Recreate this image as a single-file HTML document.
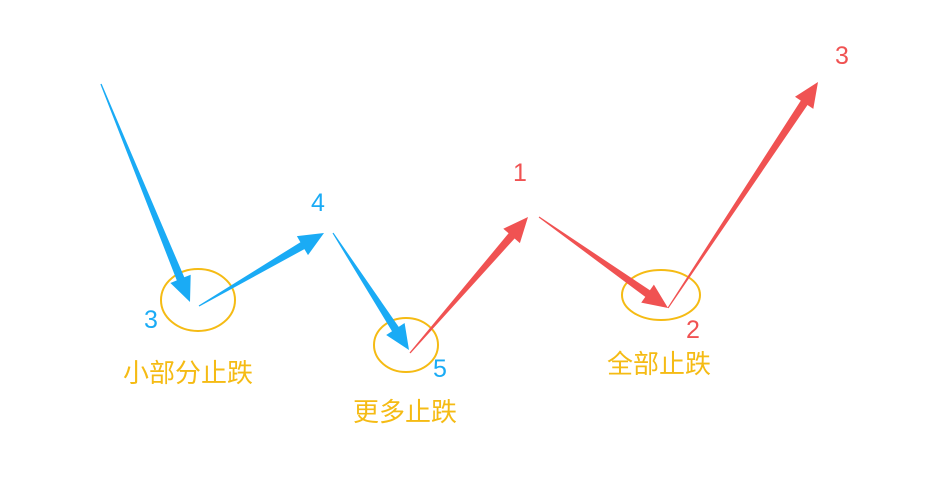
<!DOCTYPE html>
<html><head><meta charset="utf-8"><style>
html,body{margin:0;padding:0;background:#fff;width:927px;height:500px;overflow:hidden}
svg text{font-family:"Liberation Sans","Noto Sans CJK SC",sans-serif}
</style></head><body>
<svg id="s" width="927" height="500" xmlns="http://www.w3.org/2000/svg">
<g fill="none" stroke="#f5bb14" stroke-width="2">
<ellipse cx="198" cy="300" rx="37" ry="31"/>
<ellipse cx="406" cy="345" rx="32" ry="27"/>
<ellipse cx="661" cy="295" rx="39" ry="25"/>
</g>
<g font-size="25" fill="#1aabf5" text-anchor="middle">
<text x="151" y="328">3</text><text x="318" y="211">4</text><text x="440" y="377">5</text>
</g>
<g font-size="25" fill="#f05252" text-anchor="middle">
<text x="520" y="181">1</text><text x="693" y="338">2</text><text x="842" y="64">3</text>
</g>
<g font-size="26" fill="#f5bb14" text-anchor="middle">
<text x="188" y="382">小部分止跌</text><text x="405" y="421">更多止跌</text><text x="659" y="373">全部止跌</text>
</g>
</svg>
<script>
var s=document.getElementById('s');
function arr(x1,y1,x2,y2,c){
 var dx=x2-x1,dy=y2-y1,L=Math.hypot(dx,dy),ux=dx/L,uy=dy/L,nx=-uy,ny=ux;
 var hl=25,hw=11,sw=4;
 var bx=x2-ux*hl,by=y2-uy*hl;
 var p=[[x1+nx*0.6,y1+ny*0.6],[bx+nx*sw,by+ny*sw],[bx+nx*hw,by+ny*hw],[x2,y2],[bx-nx*hw,by-ny*hw],[bx-nx*sw,by-ny*sw],[x1-nx*0.6,y1-ny*0.6]];
 var e=document.createElementNS('http://www.w3.org/2000/svg','polygon');
 e.setAttribute('points',p.map(function(q){return q[0].toFixed(1)+','+q[1].toFixed(1)}).join(' '));
 e.setAttribute('fill',c);s.appendChild(e);
}
var B='#1aabf5',R='#f05252';
arr(101,84,190,302,B);arr(199,306,324,233,B);arr(333,233,409,350,B);
arr(410,353,528,217,R);arr(539,217,668,308,R);arr(668,308,818,82,R);
</script>
</body></html>
